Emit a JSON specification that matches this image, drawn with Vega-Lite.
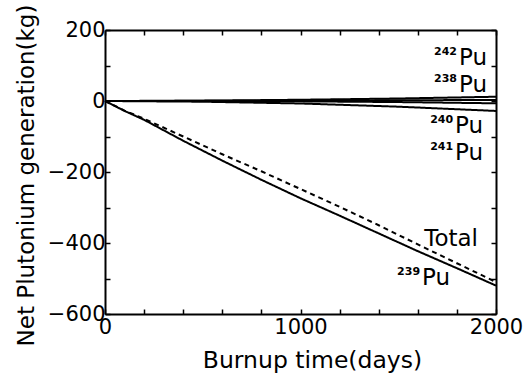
{
  "$schema": "https://vega.github.io/schema/vega-lite/v6.json",
  "width": 391,
  "height": 284,
  "autosize": {"type": "none"},
  "padding": {"left": 105, "top": 30, "right": 29, "bottom": 64},
  "background": "white",
  "config": {"view": {"stroke": null}, "font": "DejaVu Sans"},
  "datasets": {
    "curves": [
      {"series": "239Pu", "day": 0, "value": 0},
      {"series": "239Pu", "day": 100, "value": -28},
      {"series": "239Pu", "day": 200, "value": -53},
      {"series": "239Pu", "day": 400, "value": -112},
      {"series": "239Pu", "day": 600, "value": -168},
      {"series": "239Pu", "day": 800, "value": -222},
      {"series": "239Pu", "day": 1000, "value": -274},
      {"series": "239Pu", "day": 1200, "value": -323},
      {"series": "239Pu", "day": 1400, "value": -373},
      {"series": "239Pu", "day": 1600, "value": -423},
      {"series": "239Pu", "day": 1800, "value": -471},
      {"series": "239Pu", "day": 2000, "value": -520},
      {"series": "Total", "day": 0, "value": 0},
      {"series": "Total", "day": 100, "value": -27},
      {"series": "Total", "day": 200, "value": -50},
      {"series": "Total", "day": 400, "value": -100},
      {"series": "Total", "day": 600, "value": -150},
      {"series": "Total", "day": 800, "value": -198},
      {"series": "Total", "day": 1000, "value": -248},
      {"series": "Total", "day": 1200, "value": -298},
      {"series": "Total", "day": 1400, "value": -350},
      {"series": "Total", "day": 1600, "value": -404},
      {"series": "Total", "day": 1800, "value": -457},
      {"series": "Total", "day": 2000, "value": -510},
      {"series": "242Pu", "day": 0, "value": 0},
      {"series": "242Pu", "day": 500, "value": 1},
      {"series": "242Pu", "day": 1000, "value": 3.5},
      {"series": "242Pu", "day": 1500, "value": 7},
      {"series": "242Pu", "day": 2000, "value": 12},
      {"series": "238Pu", "day": 0, "value": 0},
      {"series": "238Pu", "day": 500, "value": 0.5},
      {"series": "238Pu", "day": 1000, "value": 1},
      {"series": "238Pu", "day": 1500, "value": 2},
      {"series": "238Pu", "day": 2000, "value": 3},
      {"series": "240Pu", "day": 0, "value": 0},
      {"series": "240Pu", "day": 500, "value": 0},
      {"series": "240Pu", "day": 1000, "value": -1},
      {"series": "240Pu", "day": 1500, "value": -3},
      {"series": "240Pu", "day": 2000, "value": -6.5},
      {"series": "241Pu", "day": 0, "value": 0},
      {"series": "241Pu", "day": 500, "value": -2},
      {"series": "241Pu", "day": 1000, "value": -7},
      {"series": "241Pu", "day": 1500, "value": -16},
      {"series": "241Pu", "day": 2000, "value": -28}
    ],
    "labels": [
      {"series": "242Pu", "main": "Pu", "sup": "242", "day": 1954, "value": 101},
      {"series": "238Pu", "main": "Pu", "sup": "238", "day": 1954, "value": 26},
      {"series": "240Pu", "main": "Pu", "sup": "240", "day": 1934, "value": -91},
      {"series": "241Pu", "main": "Pu", "sup": "241", "day": 1934, "value": -166},
      {"series": "Total", "main": "Total", "sup": "", "day": 1908, "value": -408},
      {"series": "239Pu", "main": "Pu", "sup": "239", "day": 1765, "value": -518}
    ]
  },
  "layer": [
    {
      "data": {"name": "curves"},
      "mark": {"type": "line", "color": "black", "strokeWidth": 2},
      "encoding": {
        "x": {
          "field": "day", "type": "quantitative",
          "scale": {"domain": [0, 2000], "nice": false, "zero": false},
          "axis": {
            "orient": "bottom",
            "values": [0, 200, 400, 600, 800, 1000, 1200, 1400, 1600, 1800, 2000],
            "format": "d",
            "labelExpr": "datum.value % 1000 == 0 ? datum.label : ''",
            "tickSize": -5, "tickWidth": 1.5, "tickColor": "black",
            "domainColor": "black", "domainWidth": 2,
            "labelFontSize": 21, "labelColor": "black", "labelPadding": 7,
            "labelFlush": false, "labelOverlap": false, "grid": false,
            "title": "Burnup time(days)", "titleFontSize": 23.5, "titleFontWeight": "normal",
            "titleColor": "black", "titleX": 207, "titleY": 53,
            "titleBaseline": "alphabetic", "titleAlign": "center"
          }
        },
        "y": {
          "field": "value", "type": "quantitative",
          "scale": {"domain": [-600, 200], "nice": false, "zero": false},
          "axis": {
            "orient": "left",
            "values": [-600, -500, -400, -300, -200, -100, 0, 100, 200],
            "format": "d",
            "labelExpr": "datum.value % 200 == 0 ? datum.label : ''",
            "tickSize": -5, "tickWidth": 1.5, "tickColor": "black",
            "domainColor": "black", "domainWidth": 2,
            "labelFontSize": 21, "labelColor": "black", "labelPadding": 5,
            "labelOverlap": false, "grid": false,
            "title": "Net Plutonium generation(kg)", "titleFontSize": 23, "titleFontWeight": "normal",
            "titleColor": "black", "titleX": -72, "titleY": 145, "titleAngle": 270,
            "titleBaseline": "alphabetic", "titleAlign": "center"
          }
        },
        "detail": {"field": "series"},
        "strokeDash": {
          "field": "series", "type": "nominal", "legend": null,
          "scale": {
            "domain": ["239Pu", "Total", "242Pu", "238Pu", "240Pu", "241Pu"],
            "range": [[1, 0], [5, 4], [1, 0], [1, 0], [1, 0], [1, 0]]
          }
        }
      }
    },
    {
      "data": {"name": "labels"},
      "mark": {"type": "text", "align": "right", "baseline": "alphabetic", "fontSize": 23, "color": "black"},
      "encoding": {
        "x": {
          "field": "day", "type": "quantitative",
          "scale": {"domain": [0, 2000], "nice": false, "zero": false},
          "axis": {
            "orient": "top",
            "values": [0, 200, 400, 600, 800, 1000, 1200, 1400, 1600, 1800, 2000],
            "labels": false, "title": null,
            "tickSize": -5, "tickWidth": 1.5, "tickColor": "black",
            "domainColor": "black", "domainWidth": 2, "grid": false
          }
        },
        "y": {
          "field": "value", "type": "quantitative",
          "scale": {"domain": [-600, 200], "nice": false, "zero": false},
          "axis": {
            "orient": "right",
            "values": [-600, -500, -400, -300, -200, -100, 0, 100, 200],
            "labels": false, "title": null,
            "tickSize": -5, "tickWidth": 1.5, "tickColor": "black",
            "domainColor": "black", "domainWidth": 2, "grid": false
          }
        },
        "text": {"field": "main"}
      }
    },
    {
      "data": {"name": "labels"},
      "mark": {"type": "text", "align": "right", "baseline": "alphabetic", "fontSize": 11, "fontWeight": "bold", "dx": -30, "dy": -10, "color": "black"},
      "encoding": {
        "x": {"field": "day", "type": "quantitative", "scale": {"domain": [0, 2000], "nice": false, "zero": false}, "axis": null},
        "y": {"field": "value", "type": "quantitative", "scale": {"domain": [-600, 200], "nice": false, "zero": false}, "axis": null},
        "text": {"field": "sup"}
      }
    }
  ],
  "resolve": {"axis": {"x": "independent", "y": "independent"}}
}
